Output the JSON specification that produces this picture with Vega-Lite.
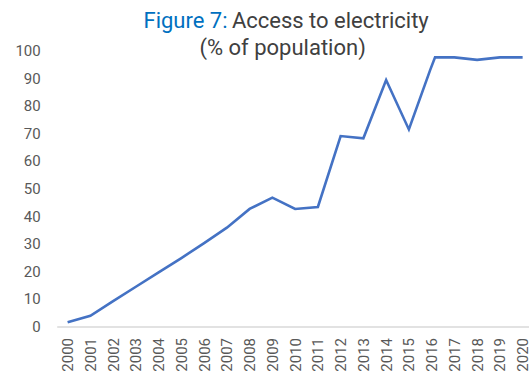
{
  "$schema": "https://vega.github.io/schema/vega-lite/v6.json",
  "autosize": {"type": "none"},
  "padding": {"left": 56.7, "top": 50.5, "right": 0, "bottom": 47.5},
  "width": 472.3,
  "height": 276,
  "background": "white",
  "config": {
    "view": {"stroke": null},
    "font": "Roboto",
    "axis": {"labelFont": "Roboto", "labelFontSize": 15, "labelColor": "#595959", "grid": false, "ticks": false, "title": null, "labelOverlap": false},
    "axisX": {
      "labelAngle": 270,
      "labelAlign": "right",
      "labelBaseline": "middle",
      "labelPadding": 11,
      "labelFlush": false,
      "labelBound": false,
      "domainColor": "#d9d9d9",
      "domainWidth": 1.6
    },
    "axisY": {
      "domain": false,
      "labelPadding": 16.5
    }
  },
  "layer": [
    {
      "data": {
        "values": [
          {"year": 2000, "access": 1.5},
          {"year": 2001, "access": 3.9},
          {"year": 2002, "access": 9.2},
          {"year": 2003, "access": 14.4},
          {"year": 2004, "access": 19.6},
          {"year": 2005, "access": 24.8},
          {"year": 2006, "access": 30.2},
          {"year": 2007, "access": 35.8},
          {"year": 2008, "access": 42.6},
          {"year": 2009, "access": 46.7},
          {"year": 2010, "access": 42.6},
          {"year": 2011, "access": 43.3},
          {"year": 2012, "access": 69.0},
          {"year": 2013, "access": 68.2},
          {"year": 2014, "access": 89.3},
          {"year": 2015, "access": 71.4},
          {"year": 2015.93, "access": 92.8},
          {"year": 2016.15, "access": 97.5},
          {"year": 2017, "access": 97.5},
          {"year": 2018, "access": 96.6},
          {"year": 2019, "access": 97.5},
          {"year": 2020, "access": 97.5}
        ]
      },
      "mark": {"type": "line", "color": "#4472C4", "strokeWidth": 2.6, "clip": false},
      "encoding": {
        "x": {
          "field": "year",
          "type": "quantitative",
          "scale": {"domain": [1999.52, 2020.28], "nice": false, "zero": false},
          "axis": {"values": [2000, 2001, 2002, 2003, 2004, 2005, 2006, 2007, 2008, 2009, 2010, 2011, 2012, 2013, 2014, 2015, 2016, 2017, 2018, 2019, 2020], "format": "d"}
        },
        "y": {
          "field": "access",
          "type": "quantitative",
          "scale": {"domain": [0, 100], "nice": false},
          "axis": {"values": [0, 10, 20, 30, 40, 50, 60, 70, 80, 90, 100]}
        }
      }
    },
    {
      "data": {"values": [{"label": "Figure 7:"}]},
      "mark": {"type": "text", "align": "right", "baseline": "alphabetic", "fontSize": 22, "color": "#0070C0", "clip": false},
      "encoding": {
        "text": {"field": "label"},
        "x": {"datum": 2007.03, "type": "quantitative", "axis": {"values": [2000, 2001, 2002, 2003, 2004, 2005, 2006, 2007, 2008, 2009, 2010, 2011, 2012, 2013, 2014, 2015, 2016, 2017, 2018, 2019, 2020], "format": "d"}},
        "y": {"datum": 108.0, "type": "quantitative", "axis": {"values": [0, 10, 20, 30, 40, 50, 60, 70, 80, 90, 100]}}
      }
    },
    {
      "data": {"values": [{"label": "Access to electricity"}]},
      "mark": {"type": "text", "align": "left", "baseline": "alphabetic", "fontSize": 22, "color": "#404040", "clip": false},
      "encoding": {
        "text": {"field": "label"},
        "x": {"datum": 2007.22, "type": "quantitative", "axis": {"values": [2000, 2001, 2002, 2003, 2004, 2005, 2006, 2007, 2008, 2009, 2010, 2011, 2012, 2013, 2014, 2015, 2016, 2017, 2018, 2019, 2020], "format": "d"}},
        "y": {"datum": 108.0, "type": "quantitative", "axis": {"values": [0, 10, 20, 30, 40, 50, 60, 70, 80, 90, 100]}}
      }
    },
    {
      "data": {"values": [{"label": "(% of population)"}]},
      "mark": {"type": "text", "align": "center", "baseline": "alphabetic", "fontSize": 22, "color": "#404040", "clip": false},
      "encoding": {
        "text": {"field": "label"},
        "x": {"datum": 2009.45, "type": "quantitative", "axis": {"values": [2000, 2001, 2002, 2003, 2004, 2005, 2006, 2007, 2008, 2009, 2010, 2011, 2012, 2013, 2014, 2015, 2016, 2017, 2018, 2019, 2020], "format": "d"}},
        "y": {"datum": 98.4, "type": "quantitative", "axis": {"values": [0, 10, 20, 30, 40, 50, 60, 70, 80, 90, 100]}}
      }
    }
  ]
}
